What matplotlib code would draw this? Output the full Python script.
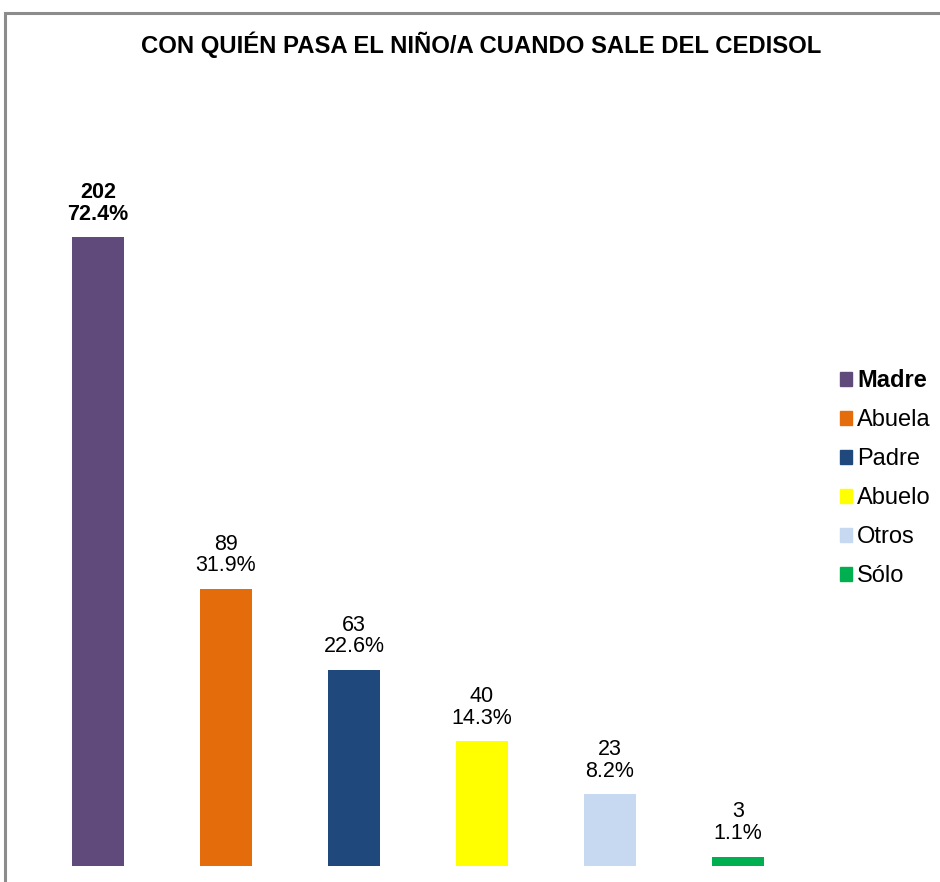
import matplotlib.pyplot as plt
from matplotlib.patches import Patch, Rectangle

# datos
categorias = ['Madre', 'Abuela', 'Padre', 'Abuelo', 'Otros', 'Sólo']
cantidades = [202, 89, 63, 40, 23, 3]
porcentajes = ['72.4%', '31.9%', '22.6%', '14.3%', '8.2%', '1.1%']
colores = ['#604A7B', '#E46C0A', '#1F497D', '#FFFF00', '#C6D9F1', '#00B050']

plt.rcParams['font.family'] = ['Liberation Sans', 'DejaVu Sans']

fig = plt.figure(figsize=(9.4, 8.82), dpi=100)

# marco gris del área del gráfico (cortado a la derecha y abajo)
fig.patches.append(Rectangle((5 / 940, -0.1), 1.2, 0.1 + (882 - 13) / 882,
                             transform=fig.transFigure, fill=False,
                             edgecolor='#8C8C8C', linewidth=2.2))

ax = fig.add_axes([34 / 940, 16 / 882, 768 / 940, 766 / 882])
x = list(range(len(categorias)))
barras = ax.bar(x, cantidades, width=0.4, color=colores)
ax.set_xlim(-0.5, 5.5)
ax.set_ylim(0, 246)
ax.axis('off')

for i, b in enumerate(barras):
    peso = 'bold' if i == 0 else 'normal'
    ax.annotate(f'{cantidades[i]}\n{porcentajes[i]}',
                (b.get_x() + b.get_width() / 2, b.get_height()),
                xytext=(0, 9), textcoords='offset points',
                ha='center', va='bottom', fontsize=15.5,
                fontweight=peso, linespacing=1.05)

fig.text(0.512, 1 - 45 / 882, 'CON QUIÉN PASA EL NIÑO/A CUANDO SALE DEL CEDISOL',
         ha='center', va='center', fontsize=17.2, fontweight='bold')

manejadores = [Patch(color=c, label=l) for c, l in zip(colores, categorias)]
leg = fig.legend(handles=manejadores, loc='center left',
                 bbox_to_anchor=(828 / 940, 1 - 478 / 882), frameon=False,
                 fontsize=17, handlelength=0.53, handleheight=0.53,
                 handletextpad=0.2, labelspacing=0.72, borderpad=0)
leg.get_texts()[0].set_fontweight('bold')

fig.savefig('out.png', dpi=100)
